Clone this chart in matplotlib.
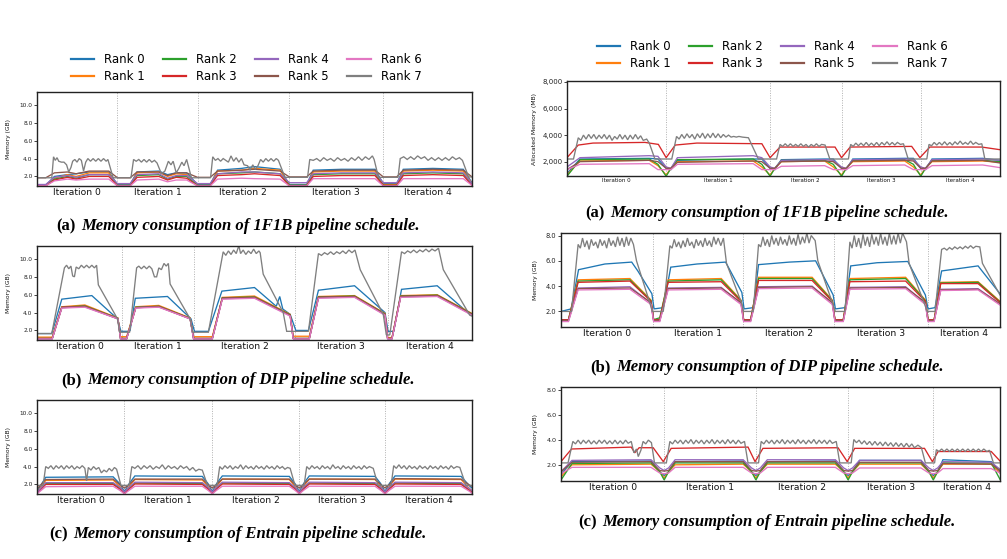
import matplotlib
matplotlib.use("Agg")
import matplotlib.pyplot as plt
import matplotlib.ticker as mticker
from matplotlib.lines import Line2D
from matplotlib.offsetbox import TextArea, HPacker, AnchoredOffsetbox

W, H = 1007, 559

rank_labels = ["Rank 0", "Rank 1", "Rank 2", "Rank 3", "Rank 4", "Rank 5", "Rank 6", "Rank 7"]
rank_colors = ["#1f77b4", "#ff7f0e", "#2ca02c", "#d62728", "#9467bd", "#8c564b", "#e377c2", "#7f7f7f"]
iteration_labels = ["Iteration 0", "Iteration 1", "Iteration 2", "Iteration 3", "Iteration 4"]

# ---------------- Left (a): 1F1B, GB ----------------
la_sep = [18.5, 36.9, 58.0, 79.6]
la_x = [0, 2, 4, 7, 9, 12, 16.5, 18.5, 21.4, 23, 28, 30, 32, 34.4, 36.9, 39.8, 41.5, 47, 50, 55.9, 58,
        62, 63.5, 70, 77.7, 79.6, 82.7, 84.2, 91, 98, 100]
la_r0 = [1.0, 1.0, 2.0, 2.2, 2.3, 2.5, 2.5, 1.1, 1.1, 2.5, 2.6, 2.2, 2.4, 2.4, 1.1, 1.1, 2.7, 2.9, 3.1, 2.8, 1.1, 1.1, 2.7, 2.8, 2.8, 1.2, 1.2, 2.8, 2.9, 2.8, 1.3]
la_r1 = [1.0, 1.0, 1.8, 2.2, 2.0, 2.4, 2.4, 1.0, 1.0, 2.4, 2.5, 2.0, 2.3, 2.2, 1.0, 1.0, 2.6, 2.7, 2.9, 2.7, 1.0, 1.0, 2.5, 2.6, 2.6, 1.1, 1.1, 2.6, 2.7, 2.6, 1.2]
la_r2 = [1.0, 1.0, 1.7, 2.0, 1.8, 2.2, 2.2, 1.0, 1.0, 2.1, 2.2, 1.7, 2.0, 2.0, 1.0, 1.0, 2.3, 2.4, 2.5, 2.3, 1.0, 1.0, 2.2, 2.3, 2.3, 1.0, 1.0, 2.3, 2.4, 2.3, 1.1]
la_r3 = [0.95, 0.95, 1.6, 1.9, 1.7, 2.0, 2.0, 0.95, 0.95, 1.9, 2.0, 1.6, 1.9, 1.8, 0.95, 0.95, 2.1, 2.2, 2.3, 2.1, 0.95, 0.95, 2.0, 2.1, 2.1, 1.0, 1.0, 2.1, 2.2, 2.1, 1.0]
la_r4 = [1.1, 1.1, 1.9, 2.1, 1.9, 2.2, 2.2, 1.2, 1.2, 2.2, 2.3, 1.8, 2.1, 2.1, 1.2, 1.2, 2.3, 2.5, 2.5, 2.3, 1.3, 1.3, 2.3, 2.4, 2.4, 1.3, 1.3, 2.4, 2.5, 2.4, 1.2]
la_r5 = [1.85, 1.85, 2.4, 2.5, 2.3, 2.6, 2.6, 1.85, 1.85, 2.5, 2.5, 2.1, 2.4, 2.4, 1.9, 1.9, 2.6, 2.7, 2.8, 2.6, 1.95, 1.95, 2.6, 2.7, 2.7, 1.95, 1.95, 2.7, 2.8, 2.7, 1.95]
la_r6 = [0.95, 0.95, 1.5, 1.7, 1.6, 1.7, 1.7, 0.95, 0.95, 1.6, 1.7, 1.4, 1.6, 1.6, 0.95, 0.95, 1.7, 1.8, 1.75, 1.7, 0.95, 0.95, 1.75, 1.75, 1.75, 0.95, 0.95, 1.75, 1.75, 1.75, 1.0]
la_r7 = [(0, 1.85), (3.4, 1.85), (3.8, 4.2), (4.2, 3.8), (4.6, 4.1), (5.0, 3.7), (5.6, 3.6), (6.2, 3.6), (6.8, 3.3),
         (7.3, 2.5), (7.8, 3.0), (8.2, 3.7), (8.7, 3.9), (9.2, 3.6), (9.7, 4.0), (10.2, 3.8), (10.7, 2.6), (11.2, 3.6),
         (11.7, 4.0), (12.3, 3.7), (12.9, 4.0), (13.5, 3.7), (14.1, 4.0), (14.7, 3.7), (15.3, 4.0), (15.9, 3.7),
         (16.3, 3.9), (17.5, 1.85), (21.6, 1.85), (22.2, 3.9), (22.8, 3.7), (23.4, 3.9), (24.0, 3.6), (24.6, 3.9),
         (25.2, 3.6), (25.8, 3.9), (26.4, 3.6), (27.0, 3.8), (27.6, 3.5), (28.6, 2.3), (29.4, 2.6), (30.2, 3.7),
         (30.8, 3.3), (31.3, 3.7), (32.0, 2.4), (32.6, 2.9), (33.3, 3.6), (33.8, 3.2), (34.4, 3.9), (35.5, 1.85),
         (39.9, 1.85), (40.4, 4.2), (41.0, 3.8), (41.6, 4.0), (42.2, 3.7), (42.8, 4.0), (43.4, 3.8), (44.0, 3.6),
         (44.6, 4.3), (45.2, 3.7), (45.8, 4.1), (46.4, 3.6), (47.0, 4.0), (47.6, 3.3), (48.4, 3.2), (49.0, 2.7),
         (49.6, 3.3), (50.2, 2.8), (50.8, 3.2), (51.4, 3.9), (52.0, 3.6), (52.6, 4.0), (53.2, 3.7), (53.8, 4.0),
         (54.4, 3.7), (55.0, 4.0), (55.5, 3.8), (57.0, 1.9), (62.2, 1.9), (62.7, 3.9), (63.5, 3.8), (64.3, 4.0),
         (65.1, 3.7), (65.9, 4.1), (66.7, 3.8), (67.5, 4.0), (68.3, 3.7), (69.1, 4.1), (69.9, 3.8), (70.7, 4.0),
         (71.5, 3.7), (72.3, 4.1), (73.1, 3.8), (73.9, 4.2), (74.7, 3.8), (75.5, 4.2), (76.3, 3.9), (77.1, 4.3),
         (77.5, 3.9), (78.5, 1.9), (83.0, 1.9), (83.5, 4.0), (84.3, 4.2), (85.1, 3.9), (85.9, 4.2), (86.7, 3.9),
         (87.5, 4.3), (88.3, 4.0), (89.1, 4.2), (89.9, 3.8), (90.7, 4.1), (91.5, 3.8), (92.3, 4.1), (93.1, 3.8),
         (93.9, 4.1), (94.7, 3.8), (95.5, 4.2), (96.3, 3.9), (97.1, 4.1), (97.8, 3.8), (99.2, 1.95), (100, 1.95)]

# ---------------- Left (b): DIP, GB ----------------
lb_sep = [19.6, 36.2, 59.2, 80.6]
lb_x = [0, 3.5, 5.7, 11, 18.6, 19.2, 20.6, 22.7, 28, 35.2, 36.0, 40.3, 42.6, 50, 58.2, 58.9, 62.6, 64.7, 73, 80.0,
        80.6, 81.6, 83.6, 92, 100]
lb_r0_x = [0, 3.4, 5.7, 12.6, 18.5, 19.3, 20.8, 21.4, 22.6, 30, 35.4, 36.2, 39.4, 42.5, 50, 55, 55.8, 56.5, 58.2,
           59.5, 62.4, 64.7, 73, 80.0, 80.7, 82.0, 83.8, 92, 99.5, 100]
lb_r0 = [1.65, 1.65, 5.5, 5.9, 3.3, 1.9, 1.9, 2.0, 5.6, 5.8, 3.3, 1.9, 1.9, 6.4, 6.8, 4.7, 5.8, 4.4, 3.8, 2.0,
         2.0, 6.5, 7.0, 4.0, 1.9, 1.9, 6.6, 7.0, 3.8, 3.7]
lb_r1 = [1.25, 1.25, 4.65, 4.85, 3.4, 1.3, 1.3, 4.65, 4.8, 3.4, 1.3, 1.3, 5.7, 5.85, 3.8, 1.35, 1.35, 5.8, 5.9, 3.9, 1.2, 1.2, 5.9, 6.0, 3.9]
lb_r2 = [1.1, 1.1, 4.6, 4.75, 3.35, 1.1, 1.1, 4.6, 4.7, 3.35, 1.1, 1.1, 5.65, 5.75, 3.75, 1.1, 1.1, 5.75, 5.85, 3.85, 1.1, 1.1, 5.85, 5.95, 3.85]
lb_r3 = [1.1, 1.1, 4.6, 4.7, 3.3, 1.1, 1.1, 4.55, 4.65, 3.3, 1.1, 1.1, 5.6, 5.7, 3.7, 1.1, 1.1, 5.7, 5.8, 3.8, 1.1, 1.1, 5.8, 5.9, 3.8]
lb_r4 = [1.05, 1.05, 4.55, 4.65, 3.3, 1.05, 1.05, 4.55, 4.65, 3.3, 1.05, 1.05, 5.55, 5.65, 3.65, 1.05, 1.05, 5.65, 5.75, 3.75, 1.05, 1.05, 5.75, 5.85, 3.75]
lb_r5 = [1.1, 1.1, 4.55, 4.7, 3.35, 1.1, 1.1, 4.55, 4.7, 3.35, 1.1, 1.1, 5.6, 5.7, 3.7, 1.1, 1.1, 5.7, 5.8, 3.8, 1.1, 1.1, 5.8, 5.9, 3.8]
lb_r6 = [1.05, 1.05, 4.5, 4.6, 3.3, 1.05, 1.05, 4.5, 4.6, 3.3, 1.05, 1.05, 5.5, 5.6, 3.6, 1.05, 1.05, 5.6, 5.7, 3.7, 1.05, 1.05, 5.7, 5.8, 3.7]
lb_r7 = [(0, 1.65), (3.4, 1.65), (6.3, 9.0), (6.8, 9.3), (7.3, 8.9), (7.8, 9.2), (8.2, 8.1), (8.6, 8.0), (9.0, 9.1),
         (9.6, 8.9), (10.2, 9.3), (10.8, 9.0), (11.4, 9.3), (12.0, 9.0), (12.6, 9.3), (13.2, 9.0), (13.7, 9.3),
         (14.1, 7.1), (18.5, 3.3), (19.0, 1.8), (21.3, 1.8), (22.9, 9.0), (23.4, 9.2), (24.0, 8.9), (24.6, 9.2),
         (25.2, 8.9), (25.8, 9.2), (26.4, 8.9), (27.0, 8.0), (27.5, 8.0), (28.0, 9.0), (28.6, 8.8), (29.2, 9.5),
         (29.7, 9.2), (30.2, 9.5), (30.6, 7.2), (35.2, 3.3), (35.8, 1.8), (39.4, 1.8), (42.8, 10.8), (43.4, 10.4),
         (44.0, 10.9), (44.6, 10.5), (45.2, 11.0), (45.8, 10.6), (46.4, 11.5), (46.8, 10.6), (47.4, 11.0),
         (48.0, 10.5), (48.6, 10.9), (49.2, 10.6), (49.8, 11.1), (50.4, 10.6), (51.0, 10.9), (51.3, 10.7),
         (52.0, 8.3), (56.6, 4.0), (57.4, 1.9), (62.4, 1.9), (64.7, 10.6), (65.4, 10.4), (66.1, 10.7), (66.8, 10.5),
         (67.5, 10.8), (68.2, 10.5), (68.9, 10.8), (69.6, 10.6), (70.3, 10.9), (71.0, 10.6), (71.7, 11.0),
         (72.4, 10.7), (73.1, 11.0), (74.3, 8.8), (79.6, 3.8), (80.3, 1.5), (81.1, 1.5), (83.8, 10.8), (84.5, 10.6),
         (85.2, 10.9), (85.9, 10.7), (86.6, 11.0), (87.3, 10.7), (88.0, 11.0), (88.7, 10.8), (89.4, 11.1),
         (90.1, 10.8), (90.8, 11.1), (91.5, 10.9), (92.3, 11.2), (93.4, 8.8), (99.5, 3.7), (100, 3.6)]

# ---------------- Left (c): Entrain, GB ----------------
lc_sep = [20.1, 40.3, 60.3, 80.0]
lc_x = [0, 2.0, 17.5, 19.0, 20.1, 21.2, 22.5, 38.0, 39.3, 40.3, 41.3, 42.6, 58.0, 59.3, 60.3, 61.3, 62.6,
        77.7, 79.0, 80.0, 81.0, 82.3, 97.5, 99.5, 100]
lc_r0 = [1.2, 2.8, 2.85, 2.1, 1.2, 2.1, 2.95, 2.9, 2.1, 1.2, 2.1, 2.95, 2.9, 2.1, 1.2, 2.1, 2.95, 2.9, 2.1, 1.2, 2.1, 2.95, 2.9, 1.8, 1.6]
lc_r1 = [1.05, 2.45, 2.5, 1.8, 1.05, 1.8, 2.55, 2.5, 1.8, 1.05, 1.8, 2.6, 2.55, 1.8, 1.05, 1.8, 2.6, 2.55, 1.8, 1.05, 1.8, 2.6, 2.55, 1.5, 1.3]
lc_r2 = [1.0, 2.1, 2.1, 1.6, 1.0, 1.6, 2.15, 2.1, 1.6, 1.0, 1.6, 2.15, 2.1, 1.6, 1.0, 1.6, 2.15, 2.1, 1.6, 1.0, 1.6, 2.15, 2.1, 1.3, 1.1]
lc_r3 = [1.0, 2.0, 2.0, 1.5, 1.0, 1.5, 2.05, 2.0, 1.5, 1.0, 1.5, 2.05, 2.0, 1.5, 1.0, 1.5, 2.05, 2.0, 1.5, 1.0, 1.5, 2.05, 2.0, 1.3, 1.1]
lc_r4 = [1.1, 2.2, 2.2, 1.7, 1.15, 1.7, 2.25, 2.2, 1.7, 1.15, 1.7, 2.25, 2.2, 1.7, 1.15, 1.7, 2.25, 2.2, 1.7, 1.15, 1.7, 2.25, 2.2, 1.5, 1.3]
lc_r5 = [1.5, 2.55, 2.6, 2.0, 1.6, 2.0, 2.6, 2.6, 2.0, 1.6, 2.0, 2.6, 2.6, 2.0, 1.6, 2.0, 2.6, 2.6, 2.0, 1.6, 2.0, 2.65, 2.6, 1.9, 1.8]
lc_r6 = [0.95, 1.75, 1.8, 1.35, 0.95, 1.35, 1.8, 1.8, 1.35, 0.95, 1.35, 1.8, 1.8, 1.35, 0.95, 1.35, 1.8, 1.8, 1.35, 0.95, 1.35, 1.8, 1.8, 1.2, 1.0]
lc_r7 = [(0, 1.9), (1.4, 1.9), (2.0, 4.0), (2.6, 3.8), (3.2, 4.1), (3.8, 3.7), (4.4, 4.1), (5.0, 3.8), (5.6, 4.1),
         (6.2, 3.7), (6.8, 4.1), (7.4, 3.8), (8.0, 4.1), (8.6, 3.7), (9.2, 4.0), (9.8, 3.8), (10.4, 4.1), (11.0, 3.8),
         (11.4, 2.4), (11.8, 3.9), (12.4, 3.6), (13.0, 4.0), (13.6, 3.7), (14.2, 3.9), (14.8, 3.3), (15.4, 3.6),
         (16.0, 3.4), (16.6, 3.8), (17.2, 3.5), (17.8, 3.9), (18.3, 3.7), (19.3, 1.9), (21.2, 1.9), (21.8, 4.0),
         (22.5, 3.8), (23.2, 4.1), (23.9, 3.7), (24.6, 4.1), (25.3, 3.8), (26.0, 4.1), (26.7, 3.7), (27.4, 4.0),
         (28.1, 3.8), (28.8, 4.2), (29.5, 3.7), (30.2, 4.1), (30.9, 3.8), (31.6, 4.0), (32.3, 3.7), (33.0, 4.1),
         (33.7, 3.8), (34.4, 4.0), (35.1, 3.6), (35.8, 3.9), (36.5, 3.5), (37.2, 3.7), (38.0, 3.6), (39.2, 1.9),
         (41.4, 1.9), (42.0, 4.0), (42.6, 3.7), (43.2, 4.1), (43.8, 3.8), (44.4, 4.1), (45.0, 3.7), (45.6, 4.0),
         (46.2, 3.8), (46.8, 4.2), (47.4, 3.7), (48.0, 4.1), (48.6, 3.8), (49.2, 4.0), (49.8, 3.7), (50.4, 4.1),
         (51.0, 3.8), (51.6, 4.0), (52.2, 3.7), (52.8, 4.1), (53.4, 3.8), (54.0, 4.0), (54.6, 3.7), (55.2, 4.1),
         (55.8, 3.8), (56.4, 4.0), (57.0, 3.7), (57.6, 3.9), (58.2, 3.8), (59.3, 1.9), (61.4, 1.9), (62.0, 4.0),
         (62.6, 3.7), (63.2, 4.1), (63.8, 3.8), (64.4, 4.0), (65.0, 3.7), (65.6, 4.1), (66.2, 3.8), (66.8, 4.0),
         (67.4, 3.7), (68.0, 4.2), (68.6, 3.8), (69.2, 4.0), (69.8, 3.7), (70.4, 4.1), (71.0, 3.8), (71.6, 4.0),
         (72.2, 3.7), (72.8, 4.1), (73.4, 3.8), (74.0, 4.0), (74.6, 3.7), (75.2, 4.1), (75.8, 3.8), (76.4, 4.0),
         (77.3, 3.8), (78.4, 1.9), (81.4, 1.9), (82.0, 4.1), (82.6, 3.8), (83.2, 4.2), (83.8, 3.8), (84.4, 4.1),
         (85.0, 3.7), (85.6, 4.1), (86.2, 3.8), (86.8, 4.0), (87.4, 3.7), (88.0, 4.1), (88.6, 3.8), (89.2, 4.0),
         (89.8, 3.7), (90.4, 4.1), (91.0, 3.8), (91.6, 4.0), (92.2, 3.7), (92.8, 4.1), (93.4, 3.8), (94.0, 4.0),
         (94.6, 3.7), (95.2, 4.1), (95.8, 3.8), (96.5, 4.0), (97.2, 3.9), (98.6, 1.9), (100, 1.9)]

# ---------------- Right (a): 1F1B, MB ----------------
ra_sep = [22.9, 46.9, 63.4, 81.7]
ra_x = [0, 3, 19, 21, 22.9, 24, 25.5, 43, 45, 46.9, 48, 49.5, 59.5, 61.5, 63.4, 64.5, 66, 78, 80, 81.7, 82.8,
        84.3, 96, 100]
ra_r0 = [1100, 2200, 2250, 2200, 1500, 1400, 2100, 2200, 2200, 1500, 1400, 2150, 2200, 2200, 1500, 1400, 2200, 2250, 2250, 1500, 1400, 2200, 2250, 2100]
ra_r1 = [1000, 2050, 2100, 1700, 1000, 1500, 2000, 2050, 1600, 1000, 1500, 2000, 2050, 1600, 1000, 1500, 2000, 2050, 1600, 1000, 1500, 2000, 2050, 1950]
ra_r2 = [900, 2150, 2200, 1800, 900, 1500, 2150, 2200, 1800, 900, 1500, 2100, 2100, 1800, 900, 1500, 2100, 2150, 1800, 900, 1500, 2100, 2100, 2000]
ra_r3_x = [0, 2.6, 6, 18, 21.1, 22.9, 25, 30, 45, 46.9, 49.2, 61.9, 63.4, 65.4, 79.6, 81.5, 83.8, 95.8, 100]
ra_r3 = [2300, 3250, 3400, 3450, 3300, 2300, 3250, 3400, 3350, 2300, 3100, 3100, 2300, 3100, 3150, 2300, 3100, 3100, 2900]
ra_r4 = [1600, 2300, 2450, 2400, 1600, 1500, 2300, 2450, 2300, 1600, 1500, 2100, 2150, 2100, 1600, 1500, 2150, 2200, 2150, 1600, 1500, 2150, 2200, 2100]
ra_r5 = [1400, 2000, 2100, 2000, 1500, 1500, 1950, 2050, 2000, 1500, 1500, 2000, 2050, 2000, 1500, 1500, 2050, 2100, 2050, 1500, 1500, 2050, 2100, 1900]
ra_r6 = [1400, 1800, 1850, 1400, 1400, 1400, 1800, 1850, 1400, 1400, 1400, 1650, 1700, 1400, 1400, 1400, 1700, 1750, 1400, 1400, 1400, 1700, 1750, 1550]
ra_r7 = [(0, 2200), (1.5, 2200), (2.6, 3800), (3.2, 3600), (3.8, 4000), (4.4, 3700), (5.0, 4050), (5.6, 3750),
         (6.2, 4050), (6.8, 3700), (7.4, 4000), (8.0, 3750), (8.6, 4050), (9.2, 3700), (9.8, 4000), (10.4, 3600),
         (11.0, 3900), (11.6, 3700), (12.2, 4050), (12.8, 3700), (13.4, 4000), (14.0, 3650), (14.6, 4000),
         (15.2, 3700), (15.8, 4050), (16.4, 3700), (17.0, 3950), (17.6, 3600), (18.4, 3700), (19.0, 3400),
         (20.3, 2200), (24.2, 2200), (25.3, 3900), (25.9, 3700), (26.5, 4050), (27.1, 3750), (27.7, 4100),
         (28.3, 3800), (28.9, 4050), (29.5, 3700), (30.1, 4100), (30.7, 3800), (31.3, 4150), (31.9, 3750),
         (32.5, 4100), (33.1, 3800), (33.7, 4150), (34.3, 3800), (34.9, 4100), (35.5, 3800), (36.1, 4050),
         (36.7, 3850), (37.3, 4000), (37.9, 3850), (38.5, 3900), (39.1, 3850), (39.7, 3900), (40.5, 3850),
         (41.9, 3800), (44.2, 2200), (48.4, 2200), (49.2, 3300), (49.8, 3150), (50.4, 3350), (51.0, 3150),
         (51.6, 3350), (52.2, 3150), (52.8, 3300), (53.4, 3150), (54.0, 3350), (54.6, 3150), (55.2, 3300),
         (55.8, 3100), (56.4, 3300), (57.0, 3150), (57.6, 3350), (58.2, 3150), (58.8, 3300), (59.6, 3250),
         (60.7, 2200), (65.0, 2200), (65.5, 3300), (66.1, 3150), (66.7, 3400), (67.3, 3200), (67.9, 3400),
         (68.5, 3200), (69.1, 3450), (69.7, 3200), (70.3, 3400), (70.9, 3200), (71.5, 3450), (72.1, 3200),
         (72.7, 3450), (73.3, 3250), (73.9, 3500), (74.5, 3250), (75.1, 3450), (75.7, 3250), (76.3, 3450),
         (77.0, 3300), (77.7, 3350), (78.8, 2200), (83.1, 2200), (83.6, 3300), (84.2, 3200), (84.8, 3450),
         (85.4, 3250), (86.0, 3450), (86.6, 3250), (87.2, 3500), (87.8, 3250), (88.4, 3450), (89.0, 3250),
         (89.6, 3500), (90.2, 3300), (90.8, 3550), (91.4, 3300), (92.0, 3450), (92.6, 3300), (93.2, 3550),
         (93.8, 3300), (94.4, 3450), (95.1, 3300), (95.8, 3350), (96.5, 2200), (100, 2200)]

# ---------------- Right (b): DIP, GB ----------------
rb_sep = [21.0, 41.5, 62.3, 83.5]
rb_x = [0, 1.7, 3.9, 15.7, 20.5, 21.1, 22.5, 24.4, 36.5, 41.0, 41.6, 43.2, 45.0, 57.2, 61.8, 62.4, 64.3, 65.8,
        78.5, 83.0, 83.6, 85.0, 86.5, 95.0, 100]
rb_r0_x = [0, 2.3, 4.0, 10, 16.1, 17.5, 20.7, 21.2, 23.3, 25.0, 31, 37.5, 41.2, 41.7, 43.8, 45.0, 52, 58, 62.0,
           62.5, 64.7, 66.0, 72, 79, 83.0, 83.6, 85.2, 86.7, 95, 100]
rb_r0 = [2.0, 2.2, 5.3, 5.75, 5.9, 5.2, 3.4, 2.2, 2.3, 5.5, 5.75, 5.9, 3.5, 2.2, 2.3, 5.7, 5.9, 6.0, 3.3, 2.2,
         2.3, 5.6, 5.85, 5.95, 3.3, 2.2, 2.3, 5.2, 5.6, 3.4]
rb_r1 = [1.35, 1.35, 4.5, 4.6, 2.9, 1.35, 1.35, 4.5, 4.6, 2.9, 1.35, 1.35, 4.7, 4.7, 2.9, 1.35, 1.35, 4.6, 4.7, 2.9, 1.35, 1.35, 4.3, 4.35, 2.8]
rb_r2 = [1.35, 1.35, 4.4, 4.5, 2.85, 1.35, 1.5, 4.4, 4.5, 2.85, 1.35, 1.35, 4.6, 4.6, 2.85, 1.35, 1.35, 4.5, 4.6, 2.85, 1.35, 1.35, 4.25, 4.3, 2.75]
rb_r3 = [1.35, 1.35, 4.3, 4.4, 2.8, 1.35, 1.35, 4.3, 4.35, 2.8, 1.35, 1.35, 4.45, 4.45, 2.8, 1.35, 1.35, 4.35, 4.4, 2.8, 1.35, 1.35, 4.2, 4.2, 2.7]
rb_r4 = [1.25, 1.25, 3.85, 3.95, 2.65, 1.25, 1.25, 3.85, 3.9, 2.65, 1.25, 1.25, 3.95, 4.0, 2.65, 1.25, 1.25, 3.9, 3.95, 2.65, 1.25, 1.25, 3.75, 3.8, 2.6]
rb_r5 = [1.3, 1.3, 3.8, 3.85, 2.7, 1.3, 1.3, 3.8, 3.85, 2.7, 1.3, 1.3, 3.9, 3.95, 2.7, 1.3, 1.3, 3.85, 3.9, 2.7, 1.3, 1.3, 3.7, 3.75, 2.6]
rb_r6 = [1.2, 1.2, 3.7, 3.75, 2.55, 1.2, 1.2, 3.7, 3.75, 2.55, 1.2, 1.2, 3.8, 3.85, 2.55, 1.2, 1.2, 3.75, 3.8, 2.55, 1.2, 1.2, 3.65, 3.7, 2.5]
rb_r7 = [(0, 2.0), (2.4, 2.0), (3.9, 7.3), (4.4, 7.0), (4.9, 7.8), (5.4, 7.1), (5.9, 7.6), (6.4, 6.9), (6.9, 7.7),
         (7.4, 7.2), (7.9, 7.5), (8.4, 7.0), (8.9, 7.7), (9.4, 7.2), (9.9, 7.6), (10.4, 7.0), (10.9, 7.8), (11.4, 7.2),
         (11.9, 7.6), (12.4, 7.1), (12.9, 7.9), (13.4, 7.2), (13.9, 7.8), (14.4, 7.1), (14.9, 7.9), (15.4, 7.2),
         (15.9, 7.8), (16.5, 7.3), (17.2, 6.0), (20.3, 2.6), (20.8, 2.0), (23.3, 2.0), (24.8, 7.2), (25.3, 7.0),
         (25.8, 7.7), (26.3, 7.1), (26.8, 7.5), (27.3, 7.0), (27.8, 7.6), (28.3, 7.1), (28.8, 7.8), (29.3, 7.2),
         (29.8, 7.5), (30.3, 7.0), (30.8, 7.7), (31.3, 7.2), (31.8, 7.6), (32.3, 7.1), (32.8, 7.8), (33.3, 7.2),
         (33.8, 7.6), (34.3, 7.1), (34.8, 7.9), (35.3, 7.3), (35.8, 7.8), (36.4, 7.2), (37.0, 7.8), (37.7, 5.8),
         (41.2, 2.6), (41.6, 2.0), (43.8, 2.0), (45.0, 7.3), (45.5, 7.1), (46.0, 7.9), (46.5, 7.2), (47.0, 7.7),
         (47.5, 7.1), (48.0, 8.0), (48.5, 7.3), (49.0, 7.8), (49.5, 7.2), (50.0, 7.9), (50.5, 7.3), (51.0, 7.7),
         (51.5, 7.2), (52.0, 8.0), (52.5, 7.3), (53.0, 7.8), (53.5, 7.2), (54.0, 8.1), (54.5, 7.3), (55.0, 7.9),
         (55.5, 7.4), (56.0, 8.2), (56.5, 7.4), (57.0, 8.0), (57.9, 7.6), (58.5, 6.0), (62.0, 2.5), (62.5, 2.0),
         (64.7, 2.0), (65.8, 7.5), (66.3, 7.0), (66.8, 8.0), (67.3, 7.1), (67.8, 7.8), (68.3, 7.0), (68.8, 8.1),
         (69.3, 7.2), (69.8, 7.9), (70.3, 7.1), (70.8, 8.1), (71.3, 7.3), (71.8, 7.9), (72.3, 7.2), (72.8, 8.2),
         (73.3, 7.3), (73.8, 7.9), (74.3, 7.2), (74.8, 8.2), (75.3, 7.3), (75.8, 8.0), (76.3, 7.3), (76.8, 8.2),
         (77.3, 7.4), (77.8, 8.2), (78.7, 7.5), (79.3, 5.8), (82.9, 2.5), (83.4, 2.0), (85.2, 2.0), (86.7, 6.9),
         (87.3, 7.0), (87.9, 6.85), (88.5, 7.05), (89.1, 6.9), (89.7, 7.1), (90.3, 6.95), (90.9, 7.1), (91.5, 6.95),
         (92.1, 7.15), (92.7, 7.0), (93.3, 7.2), (93.9, 7.0), (94.5, 7.15), (95.4, 7.1), (96.0, 5.8), (100, 3.3)]

# ---------------- Right (c): Entrain, GB ----------------
rc_sep = [23.5, 44.4, 65.4, 84.8]
rc_x = [0, 2.5, 20.5, 22.5, 23.5, 24.5, 26.0, 41.5, 43.4, 44.4, 45.4, 47.0, 62.5, 64.4, 65.4, 66.4, 68.0, 82.0,
        83.8, 84.8, 85.8, 87.0, 98.0, 100]
rc_r0 = [1.3, 2.3, 2.35, 1.5, 1.2, 1.5, 2.3, 2.35, 1.5, 1.2, 1.5, 2.3, 2.35, 1.5, 1.2, 1.5, 2.4, 2.4, 1.5, 1.2, 1.5, 2.45, 2.3, 1.5]
rc_r1 = [1.1, 2.05, 2.1, 1.5, 1.0, 1.5, 2.05, 2.1, 1.5, 1.0, 1.5, 2.1, 2.1, 1.5, 1.0, 1.5, 2.1, 2.1, 1.5, 1.0, 1.5, 2.1, 2.1, 1.4]
rc_r2 = [0.85, 2.15, 2.2, 1.5, 0.85, 1.5, 2.2, 2.2, 1.5, 0.85, 1.5, 2.2, 2.2, 1.5, 0.85, 1.5, 2.2, 2.2, 1.5, 0.85, 1.5, 2.2, 2.2, 0.9]
rc_r3_x = [0, 2.4, 16.0, 16.8, 17.8, 21.0, 23.3, 25.1, 42.6, 44.2, 46.0, 63.1, 65.2, 66.9, 82.8, 84.6, 85.9, 98.0, 100]
rc_r3 = [2.3, 3.3, 3.45, 3.0, 3.4, 3.4, 2.3, 3.35, 3.45, 2.3, 3.35, 3.4, 2.3, 3.35, 3.35, 2.3, 3.1, 3.1, 2.35]
rc_r4 = [1.5, 2.4, 2.45, 1.8, 1.6, 1.8, 2.45, 2.45, 1.8, 1.6, 1.8, 2.45, 2.45, 1.8, 1.6, 1.8, 2.4, 2.4, 1.8, 1.6, 1.8, 2.3, 2.25, 1.7]
rc_r5 = [1.5, 2.25, 2.3, 1.6, 1.55, 1.6, 2.3, 2.3, 1.6, 1.55, 1.6, 2.3, 2.3, 1.6, 1.55, 1.6, 2.25, 2.25, 1.6, 1.55, 1.6, 2.15, 2.1, 1.6]
rc_r6 = [1.35, 1.85, 1.85, 1.4, 1.35, 1.4, 1.85, 1.85, 1.4, 1.35, 1.4, 1.85, 1.85, 1.4, 1.35, 1.4, 1.8, 1.8, 1.4, 1.35, 1.4, 1.75, 1.75, 1.4]
rc_r7 = [(0, 2.2), (1.6, 2.2), (2.7, 3.9), (3.3, 3.7), (3.9, 4.0), (4.5, 3.7), (5.1, 4.0), (5.7, 3.75), (6.3, 4.0),
         (6.9, 3.7), (7.5, 3.95), (8.1, 3.7), (8.7, 4.0), (9.3, 3.75), (9.9, 4.0), (10.5, 3.7), (11.1, 3.95),
         (11.7, 3.7), (12.3, 4.0), (12.9, 3.7), (13.5, 3.95), (14.1, 3.7), (14.7, 4.0), (15.3, 3.75), (16.0, 3.9),
         (16.6, 3.0), (17.2, 3.3), (17.6, 2.7), (18.2, 3.2), (18.7, 3.9), (19.3, 3.7), (19.9, 4.0), (20.6, 3.8),
         (21.3, 2.2), (24.0, 2.2), (24.8, 3.9), (25.4, 3.7), (26.0, 4.0), (26.6, 3.75), (27.2, 4.0), (27.8, 3.7),
         (28.4, 4.0), (29.0, 3.75), (29.6, 4.05), (30.2, 3.7), (30.8, 4.0), (31.4, 3.75), (32.0, 4.0), (32.6, 3.7),
         (33.2, 4.0), (33.8, 3.75), (34.4, 4.05), (35.0, 3.7), (35.6, 4.0), (36.2, 3.75), (36.8, 4.0), (37.4, 3.7),
         (38.0, 4.05), (38.6, 3.75), (39.2, 4.0), (39.8, 3.7), (40.4, 4.0), (41.0, 3.75), (41.8, 3.9), (42.6, 2.2),
         (45.0, 2.2), (45.6, 3.9), (46.2, 3.7), (46.8, 4.0), (47.4, 3.75), (48.0, 4.0), (48.6, 3.7), (49.2, 4.0),
         (49.8, 3.75), (50.4, 4.05), (51.0, 3.7), (51.6, 4.0), (52.2, 3.75), (52.8, 4.0), (53.4, 3.7), (54.0, 4.05),
         (54.6, 3.75), (55.2, 4.0), (55.8, 3.7), (56.4, 4.0), (57.0, 3.75), (57.6, 4.05), (58.2, 3.7), (58.8, 4.0),
         (59.4, 3.75), (60.0, 4.0), (60.6, 3.7), (61.2, 4.0), (61.8, 3.75), (62.7, 3.9), (63.5, 2.2), (66.1, 2.2),
         (66.7, 4.05), (67.3, 3.8), (67.9, 4.0), (68.5, 3.7), (69.1, 3.95), (69.7, 3.65), (70.3, 3.9), (70.9, 3.6),
         (71.5, 3.9), (72.1, 3.6), (72.7, 3.85), (73.3, 3.55), (73.9, 3.85), (74.5, 3.55), (75.1, 3.8), (75.7, 3.5),
         (76.3, 3.8), (76.9, 3.5), (77.5, 3.75), (78.1, 3.45), (78.7, 3.75), (79.3, 3.45), (79.9, 3.7), (80.5, 3.4),
         (81.3, 3.6), (82.1, 3.4), (83.0, 2.2), (85.1, 2.2), (85.5, 3.25), (86.1, 3.1), (86.7, 3.3), (87.3, 3.1),
         (87.9, 3.3), (88.5, 3.1), (89.1, 3.3), (89.7, 3.1), (90.3, 3.3), (90.9, 3.1), (91.5, 3.3), (92.1, 3.1),
         (92.7, 3.3), (93.3, 3.1), (93.9, 3.3), (94.5, 3.1), (95.1, 3.3), (95.7, 3.1), (96.3, 3.3), (97.0, 3.1),
         (97.6, 3.2), (98.5, 2.2), (100, 2.2)]

captions = [("(a)", "Memory consumption of 1F1B pipeline schedule."),
            ("(b)", "Memory consumption of DIP pipeline schedule."),
            ("(c)", "Memory consumption of Entrain pipeline schedule.")]

# ---------------- drawing ----------------
fig = plt.figure(figsize=(W / 100, H / 100), dpi=100)


def rect(l, t, r, b):
    return [l / W, 1 - b / H, (r - l) / W, (b - t) / H]


def series(shared_x, ys, overrides, gray):
    out = []
    for i, y in enumerate(ys):
        if i in overrides:
            out.append(overrides[i])
        else:
            out.append((shared_x, y))
    gx, gy = zip(*gray)
    out.append((list(gx), list(gy)))
    return out


panels = [
    dict(rect=rect(37, 92, 472, 186), ylim=(0.93, 11.45), yt=[2, 4, 6, 8, 10], fmt="%.1f", sep=la_sep,
         data=series(la_x, [la_r0, la_r1, la_r2, la_r3, la_r4, la_r5, la_r6], {}, la_r7),
         ylabel="Memory (GB)", ylx=-0.06, ylsize=4.3, ytsize=4.2, xtsize=6.6),
    dict(rect=rect(37, 246, 472, 340), ylim=(0.93, 11.45), yt=[2, 4, 6, 8, 10], fmt="%.1f", sep=lb_sep,
         data=series(lb_x, [lb_r0, lb_r1, lb_r2, lb_r3, lb_r4, lb_r5, lb_r6], {0: (lb_r0_x, lb_r0)}, lb_r7),
         ylabel="Memory (GB)", ylx=-0.06, ylsize=4.3, ytsize=4.2, xtsize=6.6),
    dict(rect=rect(37, 400, 472, 494), ylim=(0.93, 11.45), yt=[2, 4, 6, 8, 10], fmt="%.1f", sep=lc_sep,
         data=series(lc_x, [lc_r0, lc_r1, lc_r2, lc_r3, lc_r4, lc_r5, lc_r6], {}, lc_r7),
         ylabel="Memory (GB)", ylx=-0.06, ylsize=4.3, ytsize=4.2, xtsize=6.6),
    dict(rect=rect(567, 81, 1000, 176), ylim=(920, 8075), yt=[2000, 4000, 6000, 8000], fmt="{x:,.0f}", sep=ra_sep,
         data=series(ra_x, [ra_r0, ra_r1, ra_r2, ra_r3, ra_r4, ra_r5, ra_r6], {3: (ra_r3_x, ra_r3)}, ra_r7),
         ylabel="Allocated Memory (MB)", ylx=-0.07, ylsize=4.4, ytsize=5.0, xtsize=4.0),
    dict(rect=rect(561, 233, 1000, 327), ylim=(0.77, 8.2), yt=[2, 4, 6, 8], fmt="%.1f", sep=rb_sep,
         data=series(rb_x, [rb_r0, rb_r1, rb_r2, rb_r3, rb_r4, rb_r5, rb_r6], {0: (rb_r0_x, rb_r0)}, rb_r7),
         ylabel="Memory (GB)", ylx=-0.052, ylsize=4.3, ytsize=4.8, xtsize=6.7),
    dict(rect=rect(561, 387, 1000, 481), ylim=(0.77, 8.2), yt=[2, 4, 6, 8], fmt="%.1f", sep=rc_sep,
         data=series(rc_x, [rc_r0, rc_r1, rc_r2, rc_r3, rc_r4, rc_r5, rc_r6], {3: (rc_r3_x, rc_r3)}, rc_r7),
         ylabel="Memory (GB)", ylx=-0.052, ylsize=4.3, ytsize=4.6, xtsize=6.7),
]

for p in panels:
    ax = fig.add_axes(p["rect"])
    for (xs, ys), c in zip(p["data"], rank_colors):
        ax.plot(xs, ys, color=c, lw=0.95, solid_joinstyle="miter")
    for s in p["sep"]:
        ax.axvline(s, color="#b0b0b0", lw=0.7, ls=(0, (1, 1.5)), zorder=0)
    ax.set_xlim(0, 100)
    ax.set_ylim(*p["ylim"])
    bounds = [0] + p["sep"] + [100]
    centers = [(bounds[i] + bounds[i + 1]) / 2 for i in range(len(bounds) - 1)]
    ax.set_xticks(centers)
    ax.set_xticklabels(iteration_labels)
    ax.tick_params(axis="x", length=0, pad=1.5, labelsize=p["xtsize"], colors="#111111")
    ax.set_yticks(p["yt"])
    if p["fmt"].startswith("{"):
        ax.yaxis.set_major_formatter(mticker.StrMethodFormatter(p["fmt"]))
    else:
        ax.yaxis.set_major_formatter(mticker.FormatStrFormatter(p["fmt"]))
    ax.tick_params(axis="y", length=2, width=0.6, pad=1.2, labelsize=p["ytsize"], colors="#222222")
    ax.set_ylabel(p["ylabel"], fontsize=p["ylsize"], color="#111111")
    ax.yaxis.set_label_coords(p["ylx"], 0.5)
    for sp in ax.spines.values():
        sp.set_linewidth(1.0)
        sp.set_color("#222222")

# legends
handles = [Line2D([], [], color=c, lw=1.6) for c in rank_colors]
for xc, yc in [(246, 68), (772, 55)]:
    fig.legend(handles, rank_labels, ncol=4, loc="center", bbox_to_anchor=(xc / W, 1 - yc / H),
               frameon=False, fontsize=8.5, handlelength=2.0, handletextpad=0.85, columnspacing=1.5,
               labelspacing=0.35, borderpad=0, borderaxespad=0)


def caption(tag, body, xc, yc, size):
    ta = TextArea(tag, textprops=dict(family="Liberation Serif", weight="bold", size=size))
    tb = TextArea(body, textprops=dict(family="Liberation Serif", weight="bold", style="italic", size=size))
    box = HPacker(children=[ta, tb], align="baseline", pad=0, sep=size * 0.3)
    ab = AnchoredOffsetbox(loc="center", child=box, pad=0, borderpad=0, frameon=False,
                           bbox_to_anchor=(xc / W, 1 - yc / H), bbox_transform=fig.transFigure)
    fig.add_artist(ab)


for (tag, body), yc in zip(captions, [226, 380, 534]):
    caption(tag, body, 238, yc, 12)
for (tag, body), yc in zip(captions, [213, 367, 522]):
    caption(tag, body, 767, yc, 12)

fig.savefig("out.png", dpi=100)
